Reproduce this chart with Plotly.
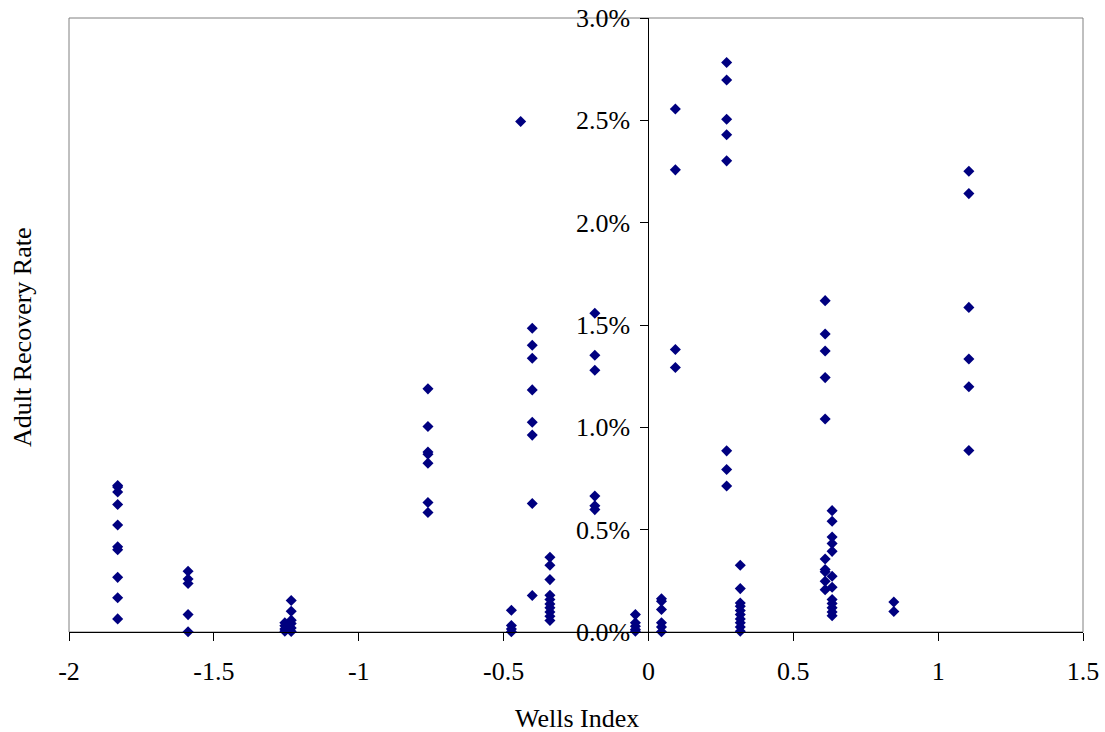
import plotly.graph_objects as go

# Wells index of each well group (x) and adult recovery rates (%) for that group
wells_index = [-1.832, -1.589, -1.233, -1.255, -0.761, -0.473, -0.441, -0.401, -0.340,
               -0.185, -0.045, 0.045, 0.093, 0.270, 0.317, 0.610, 0.634, 0.847, 1.106]

rec_m183 = [0.716, 0.708, 0.684, 0.623, 0.523, 0.416, 0.402, 0.267, 0.167, 0.064]
rec_m159 = [0.297, 0.259, 0.237, 0.085, 0.001]
rec_m123 = [0.154, 0.101, 0.058, 0.041, 0.020, 0.003]
rec_m125 = [0.045, 0.030, 0.015, 0.004]
rec_m076 = [1.188, 1.004, 0.879, 0.869, 0.825, 0.633, 0.584]
rec_m047 = [0.106, 0.032, 0.015, 0.001]
rec_m044 = [2.494]
rec_m040 = [1.484, 1.401, 1.338, 1.183, 1.025, 0.962, 0.628, 0.178]
rec_m034 = [0.365, 0.326, 0.256, 0.180, 0.159, 0.137, 0.118, 0.098, 0.077, 0.056]
rec_m019 = [1.557, 1.352, 1.279, 0.664, 0.617, 0.598]
rec_m005 = [0.085, 0.045, 0.028, 0.012, 0.004]
rec_p005 = [0.162, 0.150, 0.110, 0.045, 0.024, 0.001]
rec_p009 = [2.555, 2.258, 1.380, 1.292]
rec_p027 = [2.783, 2.697, 2.505, 2.430, 2.302, 0.885, 0.794, 0.713]
rec_p032 = [0.326, 0.212, 0.142, 0.126, 0.105, 0.085, 0.064, 0.045, 0.024, 0.004]
rec_p061 = [1.619, 1.456, 1.373, 1.243, 1.041, 0.357, 0.305, 0.294, 0.248, 0.207]
rec_p063 = [0.593, 0.541, 0.464, 0.432, 0.394, 0.272, 0.219, 0.159, 0.139, 0.118, 0.098, 0.080]
rec_p085 = [0.147, 0.100]
rec_p111 = [2.251, 2.142, 1.586, 1.334, 1.198, 0.887]

recovery_groups = [rec_m183, rec_m159, rec_m123, rec_m125, rec_m076, rec_m047, rec_m044,
                   rec_m040, rec_m034, rec_m019, rec_m005, rec_p005, rec_p009, rec_p027,
                   rec_p032, rec_p061, rec_p063, rec_p085, rec_p111]

x_ticks = [-2, -1.5, -1, -0.5, 0, 0.5, 1, 1.5]
x_tick_text = ["-2", "-1.5", "-1", "-0.5", "0", "0.5", "1", "1.5"]
y_ticks_pct = [0.0, 0.5, 1.0, 1.5, 2.0, 2.5, 3.0]

xs, ys = [], []
for xv, grp in zip(wells_index, recovery_groups):
    for v in grp:
        xs.append(xv)
        ys.append(v / 100.0)

FONT = "Liberation Serif, Times New Roman, serif"

fig = go.Figure()
fig.add_trace(go.Scatter(
    x=xs, y=ys, mode="markers",
    marker=dict(symbol="diamond", size=8.5, color="#000080", line=dict(width=0)),
    cliponaxis=False, showlegend=False,
))

W, H = 1105, 732
L, R, T, B = 69, 22, 18, 100
pw, ph = W - L - R, H - T - B

fig.update_layout(
    width=W, height=H,
    margin=dict(l=L, r=R, t=T, b=B, autoexpand=False),
    paper_bgcolor="white", plot_bgcolor="white",
    font=dict(family=FONT, size=26, color="black"),
    xaxis=dict(
        range=[-2, 1.5], tickvals=x_ticks, ticktext=x_tick_text, automargin=False,
        showgrid=False, zeroline=False, showline=True, linecolor="black", linewidth=1,
        ticks="outside", ticklen=8, tickcolor="black", tickwidth=1,
        ticklabelstandoff=8,
        tickfont=dict(family=FONT, size=26),
    ),
    yaxis=dict(
        range=[0, 0.03], tickvals=[v / 100 for v in y_ticks_pct], tickformat=".1%",
        automargin=False,
        showgrid=False, zeroline=False, showline=True, linecolor="black", linewidth=1,
        ticks="outside", ticklen=8, tickcolor="black", tickwidth=1,
        anchor="free", position=2 / 3.5, ticklabelstandoff=5,
        tickfont=dict(family=FONT, size=26),
    ),
    shapes=[dict(type="rect", xref="paper", yref="paper", x0=0, x1=1, y0=0, y1=1,
                 line=dict(color="#808080", width=1), layer="below")],
    annotations=[
        dict(text="Wells Index", xref="paper", yref="paper",
             x=(577 - L) / pw, y=(H - B - 718) / ph, showarrow=False,
             xanchor="center", yanchor="middle", font=dict(family=FONT, size=26)),
        dict(text="Adult Recovery Rate", xref="paper", yref="paper",
             x=(22 - L) / pw, y=(H - B - 337) / ph, showarrow=False, textangle=-90,
             xanchor="center", yanchor="middle", font=dict(family=FONT, size=26)),
    ],
)

fig.write_html("out.html", config={"displayModeBar": False},
               post_script="document.body.style.margin='0';document.body.style.overflow='hidden';")
